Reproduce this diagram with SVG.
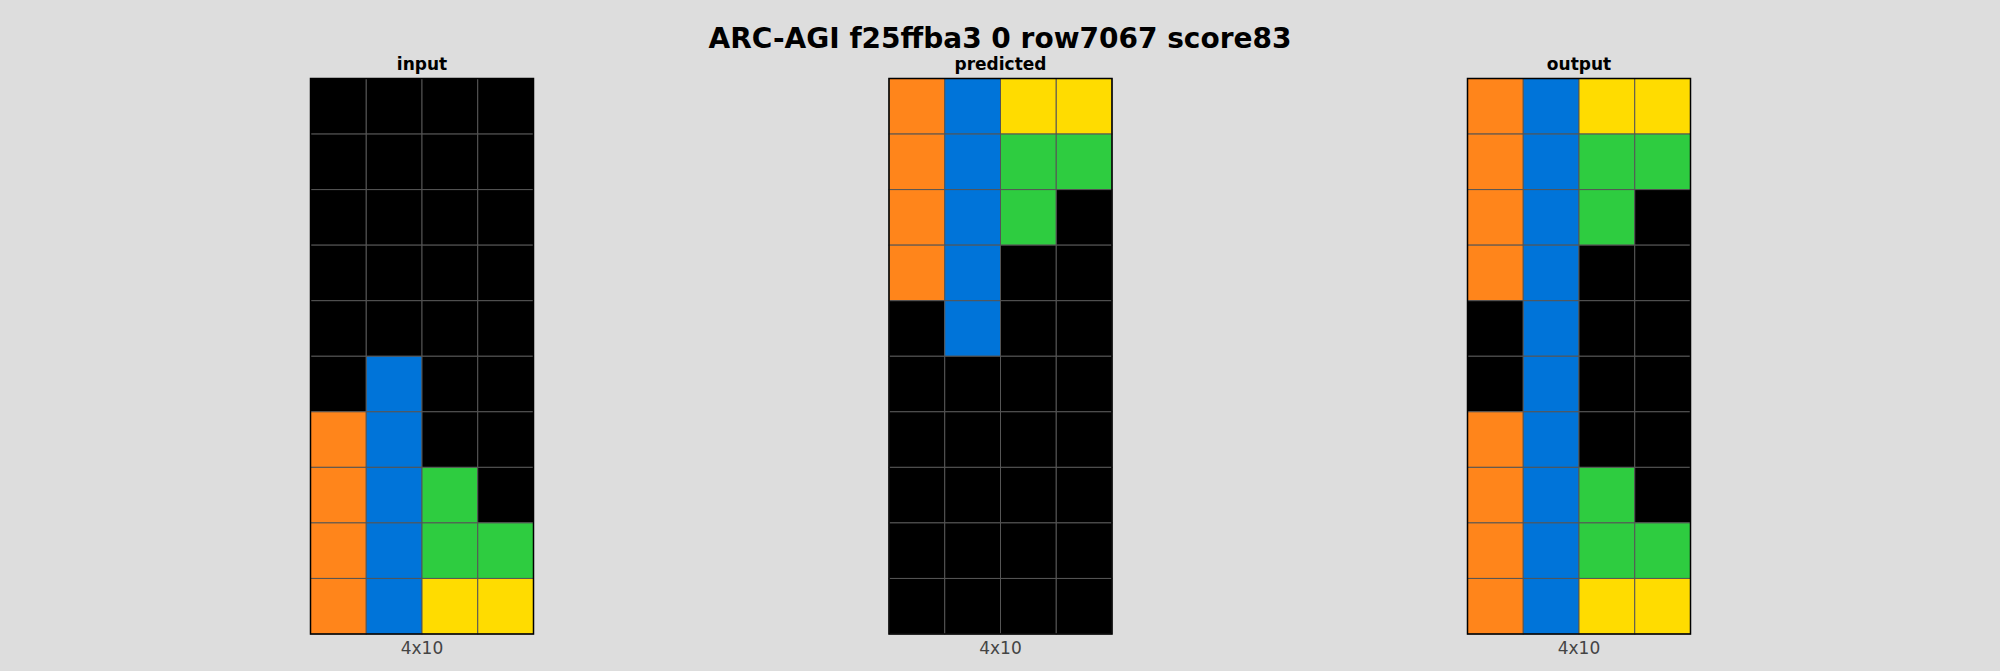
<svg xmlns="http://www.w3.org/2000/svg" width="2000" height="671" viewBox="0 0 2000 671">
<style>
rect.c{stroke:#555555;stroke-width:1}
.k{fill:#000000}.o{fill:#FF851B}.b{fill:#0074D9}.g{fill:#2ECC40}.y{fill:#FFDC00}
.frame{fill:none;stroke:#000000;stroke-width:1.5}
.title{font-family:"DejaVu Sans",sans-serif;font-weight:bold;font-size:28px;fill:#000;text-anchor:middle}
.sub{font-family:"DejaVu Sans",sans-serif;font-weight:bold;font-size:17px;fill:#000;text-anchor:middle}
.dim{font-family:"DejaVu Sans",sans-serif;font-size:17px;fill:#444444;text-anchor:middle}
</style>
<rect width="2000" height="671" fill="#DDDDDD"/>
<text class="title" x="1000" y="48">ARC-AGI f25ffba3 0 row7067 score83</text>
<g id="input" transform="translate(310.5,78.5)">
<text class="sub" x="111.5" y="-9">input</text>
<rect class="c k" x="0" y="0" width="55.75" height="55.55"/><rect class="c k" x="55.75" y="0" width="55.75" height="55.55"/><rect class="c k" x="111.5" y="0" width="55.75" height="55.55"/><rect class="c k" x="167.25" y="0" width="55.75" height="55.55"/>
<rect class="c k" x="0" y="55.55" width="55.75" height="55.55"/><rect class="c k" x="55.75" y="55.55" width="55.75" height="55.55"/><rect class="c k" x="111.5" y="55.55" width="55.75" height="55.55"/><rect class="c k" x="167.25" y="55.55" width="55.75" height="55.55"/>
<rect class="c k" x="0" y="111.1" width="55.75" height="55.55"/><rect class="c k" x="55.75" y="111.1" width="55.75" height="55.55"/><rect class="c k" x="111.5" y="111.1" width="55.75" height="55.55"/><rect class="c k" x="167.25" y="111.1" width="55.75" height="55.55"/>
<rect class="c k" x="0" y="166.65" width="55.75" height="55.55"/><rect class="c k" x="55.75" y="166.65" width="55.75" height="55.55"/><rect class="c k" x="111.5" y="166.65" width="55.75" height="55.55"/><rect class="c k" x="167.25" y="166.65" width="55.75" height="55.55"/>
<rect class="c k" x="0" y="222.2" width="55.75" height="55.55"/><rect class="c k" x="55.75" y="222.2" width="55.75" height="55.55"/><rect class="c k" x="111.5" y="222.2" width="55.75" height="55.55"/><rect class="c k" x="167.25" y="222.2" width="55.75" height="55.55"/>
<rect class="c k" x="0" y="277.75" width="55.75" height="55.55"/><rect class="c b" x="55.75" y="277.75" width="55.75" height="55.55"/><rect class="c k" x="111.5" y="277.75" width="55.75" height="55.55"/><rect class="c k" x="167.25" y="277.75" width="55.75" height="55.55"/>
<rect class="c o" x="0" y="333.3" width="55.75" height="55.55"/><rect class="c b" x="55.75" y="333.3" width="55.75" height="55.55"/><rect class="c k" x="111.5" y="333.3" width="55.75" height="55.55"/><rect class="c k" x="167.25" y="333.3" width="55.75" height="55.55"/>
<rect class="c o" x="0" y="388.85" width="55.75" height="55.55"/><rect class="c b" x="55.75" y="388.85" width="55.75" height="55.55"/><rect class="c g" x="111.5" y="388.85" width="55.75" height="55.55"/><rect class="c k" x="167.25" y="388.85" width="55.75" height="55.55"/>
<rect class="c o" x="0" y="444.4" width="55.75" height="55.55"/><rect class="c b" x="55.75" y="444.4" width="55.75" height="55.55"/><rect class="c g" x="111.5" y="444.4" width="55.75" height="55.55"/><rect class="c g" x="167.25" y="444.4" width="55.75" height="55.55"/>
<rect class="c o" x="0" y="499.95" width="55.75" height="55.55"/><rect class="c b" x="55.75" y="499.95" width="55.75" height="55.55"/><rect class="c y" x="111.5" y="499.95" width="55.75" height="55.55"/><rect class="c y" x="167.25" y="499.95" width="55.75" height="55.55"/>
<rect class="frame" x="0" y="0" width="223" height="555.5"/>
<text class="dim" x="111.5" y="575.5">4x10</text>
</g>
<g id="predicted" transform="translate(889,78.5)">
<text class="sub" x="111.5" y="-9">predicted</text>
<rect class="c o" x="0" y="0" width="55.75" height="55.55"/><rect class="c b" x="55.75" y="0" width="55.75" height="55.55"/><rect class="c y" x="111.5" y="0" width="55.75" height="55.55"/><rect class="c y" x="167.25" y="0" width="55.75" height="55.55"/>
<rect class="c o" x="0" y="55.55" width="55.75" height="55.55"/><rect class="c b" x="55.75" y="55.55" width="55.75" height="55.55"/><rect class="c g" x="111.5" y="55.55" width="55.75" height="55.55"/><rect class="c g" x="167.25" y="55.55" width="55.75" height="55.55"/>
<rect class="c o" x="0" y="111.1" width="55.75" height="55.55"/><rect class="c b" x="55.75" y="111.1" width="55.75" height="55.55"/><rect class="c g" x="111.5" y="111.1" width="55.75" height="55.55"/><rect class="c k" x="167.25" y="111.1" width="55.75" height="55.55"/>
<rect class="c o" x="0" y="166.65" width="55.75" height="55.55"/><rect class="c b" x="55.75" y="166.65" width="55.75" height="55.55"/><rect class="c k" x="111.5" y="166.65" width="55.75" height="55.55"/><rect class="c k" x="167.25" y="166.65" width="55.75" height="55.55"/>
<rect class="c k" x="0" y="222.2" width="55.75" height="55.55"/><rect class="c b" x="55.75" y="222.2" width="55.75" height="55.55"/><rect class="c k" x="111.5" y="222.2" width="55.75" height="55.55"/><rect class="c k" x="167.25" y="222.2" width="55.75" height="55.55"/>
<rect class="c k" x="0" y="277.75" width="55.75" height="55.55"/><rect class="c k" x="55.75" y="277.75" width="55.75" height="55.55"/><rect class="c k" x="111.5" y="277.75" width="55.75" height="55.55"/><rect class="c k" x="167.25" y="277.75" width="55.75" height="55.55"/>
<rect class="c k" x="0" y="333.3" width="55.75" height="55.55"/><rect class="c k" x="55.75" y="333.3" width="55.75" height="55.55"/><rect class="c k" x="111.5" y="333.3" width="55.75" height="55.55"/><rect class="c k" x="167.25" y="333.3" width="55.75" height="55.55"/>
<rect class="c k" x="0" y="388.85" width="55.75" height="55.55"/><rect class="c k" x="55.75" y="388.85" width="55.75" height="55.55"/><rect class="c k" x="111.5" y="388.85" width="55.75" height="55.55"/><rect class="c k" x="167.25" y="388.85" width="55.75" height="55.55"/>
<rect class="c k" x="0" y="444.4" width="55.75" height="55.55"/><rect class="c k" x="55.75" y="444.4" width="55.75" height="55.55"/><rect class="c k" x="111.5" y="444.4" width="55.75" height="55.55"/><rect class="c k" x="167.25" y="444.4" width="55.75" height="55.55"/>
<rect class="c k" x="0" y="499.95" width="55.75" height="55.55"/><rect class="c k" x="55.75" y="499.95" width="55.75" height="55.55"/><rect class="c k" x="111.5" y="499.95" width="55.75" height="55.55"/><rect class="c k" x="167.25" y="499.95" width="55.75" height="55.55"/>
<rect class="frame" x="0" y="0" width="223" height="555.5"/>
<text class="dim" x="111.5" y="575.5">4x10</text>
</g>
<g id="output" transform="translate(1467.5,78.5)">
<text class="sub" x="111.5" y="-9">output</text>
<rect class="c o" x="0" y="0" width="55.75" height="55.55"/><rect class="c b" x="55.75" y="0" width="55.75" height="55.55"/><rect class="c y" x="111.5" y="0" width="55.75" height="55.55"/><rect class="c y" x="167.25" y="0" width="55.75" height="55.55"/>
<rect class="c o" x="0" y="55.55" width="55.75" height="55.55"/><rect class="c b" x="55.75" y="55.55" width="55.75" height="55.55"/><rect class="c g" x="111.5" y="55.55" width="55.75" height="55.55"/><rect class="c g" x="167.25" y="55.55" width="55.75" height="55.55"/>
<rect class="c o" x="0" y="111.1" width="55.75" height="55.55"/><rect class="c b" x="55.75" y="111.1" width="55.75" height="55.55"/><rect class="c g" x="111.5" y="111.1" width="55.75" height="55.55"/><rect class="c k" x="167.25" y="111.1" width="55.75" height="55.55"/>
<rect class="c o" x="0" y="166.65" width="55.75" height="55.55"/><rect class="c b" x="55.75" y="166.65" width="55.75" height="55.55"/><rect class="c k" x="111.5" y="166.65" width="55.75" height="55.55"/><rect class="c k" x="167.25" y="166.65" width="55.75" height="55.55"/>
<rect class="c k" x="0" y="222.2" width="55.75" height="55.55"/><rect class="c b" x="55.75" y="222.2" width="55.75" height="55.55"/><rect class="c k" x="111.5" y="222.2" width="55.75" height="55.55"/><rect class="c k" x="167.25" y="222.2" width="55.75" height="55.55"/>
<rect class="c k" x="0" y="277.75" width="55.75" height="55.55"/><rect class="c b" x="55.75" y="277.75" width="55.75" height="55.55"/><rect class="c k" x="111.5" y="277.75" width="55.75" height="55.55"/><rect class="c k" x="167.25" y="277.75" width="55.75" height="55.55"/>
<rect class="c o" x="0" y="333.3" width="55.75" height="55.55"/><rect class="c b" x="55.75" y="333.3" width="55.75" height="55.55"/><rect class="c k" x="111.5" y="333.3" width="55.75" height="55.55"/><rect class="c k" x="167.25" y="333.3" width="55.75" height="55.55"/>
<rect class="c o" x="0" y="388.85" width="55.75" height="55.55"/><rect class="c b" x="55.75" y="388.85" width="55.75" height="55.55"/><rect class="c g" x="111.5" y="388.85" width="55.75" height="55.55"/><rect class="c k" x="167.25" y="388.85" width="55.75" height="55.55"/>
<rect class="c o" x="0" y="444.4" width="55.75" height="55.55"/><rect class="c b" x="55.75" y="444.4" width="55.75" height="55.55"/><rect class="c g" x="111.5" y="444.4" width="55.75" height="55.55"/><rect class="c g" x="167.25" y="444.4" width="55.75" height="55.55"/>
<rect class="c o" x="0" y="499.95" width="55.75" height="55.55"/><rect class="c b" x="55.75" y="499.95" width="55.75" height="55.55"/><rect class="c y" x="111.5" y="499.95" width="55.75" height="55.55"/><rect class="c y" x="167.25" y="499.95" width="55.75" height="55.55"/>
<rect class="frame" x="0" y="0" width="223" height="555.5"/>
<text class="dim" x="111.5" y="575.5">4x10</text>
</g>
</svg>
